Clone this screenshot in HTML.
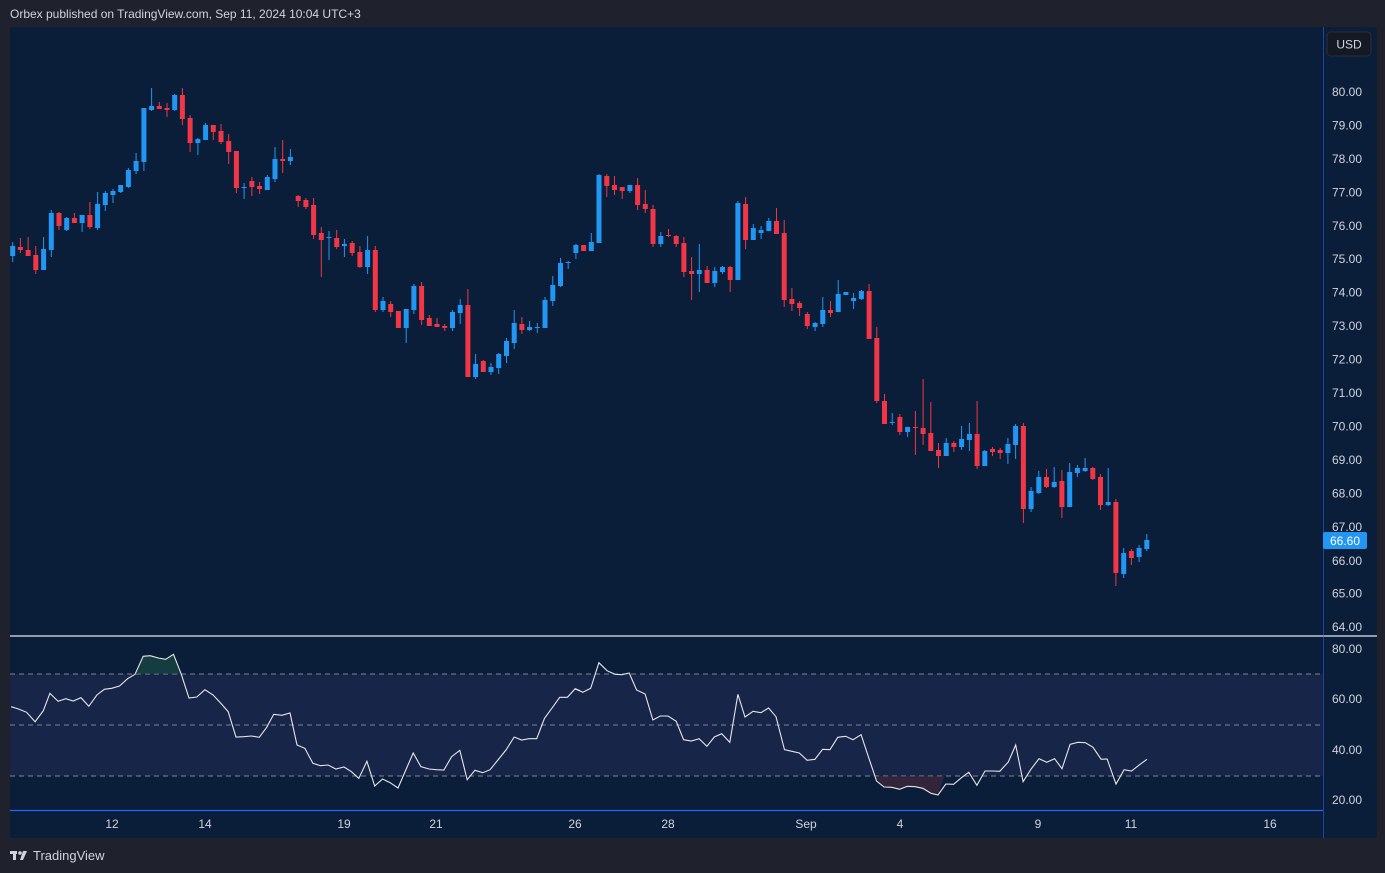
<!DOCTYPE html>
<html><head><meta charset="utf-8"><style>
html,body{margin:0;padding:0;background:#1f222d;width:1385px;height:873px;overflow:hidden;font-family:"Liberation Sans",Arial,sans-serif}
svg{position:absolute;left:0;top:0}
</style></head><body>
<svg id="s" width="1385" height="873" xmlns="http://www.w3.org/2000/svg" font-family="Liberation Sans, Arial, sans-serif">
<rect x="0" y="0" width="1385" height="873" fill="#1f222d"/>
<rect x="10" y="27" width="1367" height="811" fill="#0a1e3a"/>
<rect x="10" y="674" width="1313" height="102" fill="#172548"/>
<line x1="10" y1="674" x2="1323" y2="674" stroke="#7d8494" stroke-dasharray="5,4" stroke-width="1"/>
<line x1="10" y1="725" x2="1323" y2="725" stroke="#7d8494" stroke-dasharray="5,4" stroke-width="1"/>
<line x1="10" y1="776" x2="1323" y2="776" stroke="#7d8494" stroke-dasharray="5,4" stroke-width="1"/>
<line x1="10" y1="636" x2="1377" y2="636" stroke="#e8e8ee" stroke-width="1.2"/>
<line x1="10" y1="810.5" x2="1323" y2="810.5" stroke="#2962ff" stroke-width="1.2"/>
<line x1="1323.5" y1="27" x2="1323.5" y2="838" stroke="#2962ff" stroke-width="0.8" opacity="0.7"/>
<g id="c"></g>
<g id="r"></g>
<g fill="#d1d4dc" font-size="12" id="ax"></g>
<text x="10" y="18" fill="#d1d4dc" font-size="12">Orbex published on TradingView.com, Sep 11, 2024 10:04 UTC+3</text>
<rect x="1327" y="32" width="44" height="24" rx="4" fill="#151924" stroke="#2a2e39"/>
<text x="1349" y="48.5" fill="#d1d4dc" font-size="12" text-anchor="middle">USD</text>
<rect x="1323" y="532" width="44" height="17" rx="2" fill="#2196f3"/>
<text x="1345" y="545" fill="#fff" font-size="12" text-anchor="middle">66.60</text>
<g transform="translate(10,849)" fill="#d1d4dc">
<rect x="0" y="2" width="7" height="3"/><rect x="3" y="2" width="3" height="9"/>
<circle cx="10" cy="4" r="1.8"/><polygon points="13,2 17,2 13,11 10,11"/>
</g>
<text x="33" y="860" fill="#d1d4dc" font-size="13">TradingView</text>
</svg>
<script>
var R="#f23645",B="#2196f3";
var seg=[[80,0,[
"b",498,528,486,546,"r",501,510,474,519,"r",510,528,471,528,"r",525,570,498,582,"b",507,570,471,570,"b",399,510,390,531,"r",399,438,396,450,"b",414,450,411,453,"r",414,429,399,429,"b",405,429,405,456,"r",405,441,366,447,"b",372,444,336,450,"b",339,375,333,393,"b",333,345,327,369,"b",315,336,315,339,"b",270,321,264,324,"b",243,273,219,282,"b",84,246,84,273,"b",78,90,24,93,"r",78,87,66,87,"r",84,90,69,111,"b",45,90,42,93,"r",45,117,24,135,"r",114,189,105,216,"b",177,189,174,225,"b",135,180,129,180,"r",135,156,135,180,"r",153,186,132,192,"r",183,216,162,252,"r",213,324,213,339,"b",321,324,309,357,"r",303,321,291,348,"r",318,327,306,342,"b",291,330,285,330,"b",237,297,201,306,"r",237,243,180,279,"b",231,243,207,255]],
[160,37,[
"r",108,123,105,141,"r",120,141,114,147,"r",135,225,114,237,"r",219,240,201,351,"b",231,234,213,300,"r",234,261,210,267,"b",252,258,237,291,"r",249,279,243,288,"r",276,321,258,324,"b",270,321,228,342,"r",270,450,258,456,"b",423,450,411,456,"r",432,456,423,471,"r",453,504,453,504,"b",447,504,447,549,"b",378,450,372,462,"r",378,480,366,495,"r",474,498,465,498,"r",492,501,474,501,"r",498,504,492,513,"b",456,504,450,513,"b",435,459,417,492,"r",435,651,387,651,"b",612,651,582,657,"r",603,636,600,636,"b",621,636,609,645,"b",582,624,579,642,"b",543,588,534,609,"b",489,549,450,567,"r",492,510,471,522,"b",501,510,483,513,"b",501,504,489,519,"b",420,504,411,504,"b",375,423,348,438,"b",309,378,294,381,"b",306,309,303,327,"b",255,279,252,297,"r",255,273,255,273,"b",246,273,219,273,"b",45,249,42,249,"r",48,78,42,111,"r",75,90,48,105]],
[160,79,[
"r",81,93,81,117,"b",75,93,75,99,"r",75,135,54,150,"r",132,147,90,159,"r",147,252,135,261,"b",228,252,216,261,"r",225,228,207,231,"r",228,252,225,261,"r",249,336,231,351,"r",333,342,291,420,"b",330,342,252,396,"r",330,369,318,369,"b",333,369,321,381,"b",321,336,318,342,"r",321,360,318,396,"b",129,360,123,360,"r",132,240,111,267,"b",204,240,192,240,"b",210,219,198,237,"b",183,213,174,213,"r",183,222,144,222,"r",219,420,180,441,"r",417,432,384,453,"r",429,444,423,468,"r",462,498,456,507,"b",489,501,486,513,"b",450,492,411,501,"r",450,459,423,471,"b",402,456,360,456,"b",396,405,396,405,"b",414,423,399,447]],
[280,110,[
"b",33,57,30,60,"r",33,177,12,177,"r",174,363,141,369,"r",363,432,342,432,"b",426,429,399,435,"r",411,456,402,465,"b",441,456,441,471,"r",441,444,393,525,"r",444,462,297,495,"r",459,513,366,513,"r",510,528,489,564,"b",489,528,474,528,"r",489,501,483,516,"b",477,501,438,510,"b",462,480,429,513,"r",462,558,363,567,"b",513,558,510,558,"r",507,516,501,528,"r",510,519,504,537,"b",492,519,474,552,"b",438,495,432,537,"r",438,687,429,729,"b",633,687,621,696,"b",591,639,573,642,"r",591,621,567,624,"b",606,621,561,624,"r",603,681,570,714,"b",576,681,549,681,"b",564,579,555,591,"b",564,573,534,576,"r",564,597,561,600,"r",591,675,582,690,"b",666,675,564,678,"r",666,879,657,918,"b",819,882,804,894,"r",813,834,807,855,"b",804,831,795,846,"b",780,807,762,813]]];
var h="";
seg.forEach(function(s){var oy=s[0],i0=s[1],d=s[2];
for(var k=0;k<d.length;k+=5){var i=i0+k/5,x=12.7+i*7.715,c=d[k]=="r"?R:B;
var bt=oy+d[k+1]/3,bb=oy+d[k+2]/3,wt=oy+d[k+3]/3,wb=oy+d[k+4]/3;if(bb-bt<1)bb=bt+1;
h+='<line x1="'+x.toFixed(1)+'" x2="'+x.toFixed(1)+'" y1="'+wt.toFixed(1)+'" y2="'+wb.toFixed(1)+'" stroke="'+c+'" stroke-width="1"/>';
h+='<rect x="'+(x-2.5).toFixed(1)+'" y="'+bt.toFixed(1)+'" width="5" height="'+(bb-bt).toFixed(1)+'" fill="'+c+'"/>';}});
document.getElementById("c").innerHTML=h;
var a=[30,230,50,237,72,247,95,275,117,242,135,190,157,214,178,206,198,213,219,203,240,229,262,195,282,178,302,175,323,168,345,146,365,133,387,79,406,77,428,84,448,88,469,73,490,133,511,204,532,201,554,179,576,195,597,220,617,245,638,321,659,320,680,318,701,322,721,292,740,253,762,256,784,249,803,345,824,355,846,400,866,407,887,405,908,417,930,411,950,425,970,445,992,394,1013,468,1034,447,1055,458,1076,474,1097,420,1117,369,1138,410,1160,417,1180,419,1200,420,1221,380,1243,361,1263,449,1284,421,1305,428,1325,419,1346,390,1368,360,1390,321,1410,330,1430,326,1451,326,1472,265,1493,233,1513,202,1534,202,1555,176,1568,182];
var b=[13,176,35,187,56,175,78,98,100,122,122,133,140,134,160,129,180,180,203,192,224,270,244,258,265,258,287,274,307,329,328,333,349,326,370,349,390,321,410,311,432,337,454,193,473,261,495,244,516,248,537,234,557,260,580,359,600,364,620,369,641,391,662,388,683,358,703,359,724,322,745,319,765,329,787,314,808,385,829,453,849,471,870,472,891,478,912,469,933,470,954,475,976,490,995,495,1016,462,1037,463,1058,443,1078,427,1100,466,1122,423,1143,423,1162,424,1185,396,1205,345,1225,455,1246,418,1268,386,1289,397,1310,386,1330,416,1352,343,1373,337,1393,338,1414,352,1436,388,1452,387,1476,462,1498,419,1518,423,1540,404,1560,388];
var F=580/1568,p=[];
for(var i=0;i<a.length;i+=2)p.push((a[i]*F).toFixed(1)+","+(630+a[i+1]/3).toFixed(1));
for(var i=0;i<b.length;i+=2)p.push((570+b[i]*F).toFixed(1)+","+(630+b[i+1]/3).toFixed(1));
function fx(z,o){return (o+z*F).toFixed(1);}
var rh='<polygon points="'+fx(365,0)+',674 '+fx(387,0)+',656 '+fx(406,0)+',655.7 '+fx(428,0)+',658 '+fx(448,0)+',659.3 '+fx(469,0)+',654.3 '+fx(486,0)+',674" fill="#1f5a47" opacity="0.5"/>';
rh+='<polygon points="'+fx(822,570)+',776 '+fx(849,570)+',787 '+fx(891,570)+',789 '+fx(933,570)+',786.7 '+fx(976,570)+',793.3 '+fx(995,570)+',795 '+fx(1012,570)+',776" fill="#5a2a3a" opacity="0.5"/>';
rh+='<polyline points="'+p.join(" ")+'" fill="none" stroke="#e6e6ea" stroke-width="1.1"/>';
document.getElementById("r").innerHTML=rh;
var ax="";
for(var v=80;v>=64;v--){var y=92+(80-v)*33.44;if(v==67||v==66)continue;ax+='<text x="1332" y="'+(y+4).toFixed(1)+'">'+v+'.00</text>';}
ax+='<text x="1332" y="531">67.00</text><text x="1332" y="565">66.00</text>';
[[80,649],[60,699],[40,750],[20,800]].forEach(function(q){ax+='<text x="1332" y="'+(q[1]+4)+'">'+q[0]+'.00</text>';});
[["12",112],["14",205],["19",344],["21",436],["26",575],["28",668],["Sep",806],["4",900],["9",1038],["11",1131],["16",1270]].forEach(function(q){ax+='<text x="'+q[1]+'" y="828" text-anchor="middle">'+q[0]+'</text>';});
document.getElementById("ax").innerHTML=ax;
</script>
</body></html>
